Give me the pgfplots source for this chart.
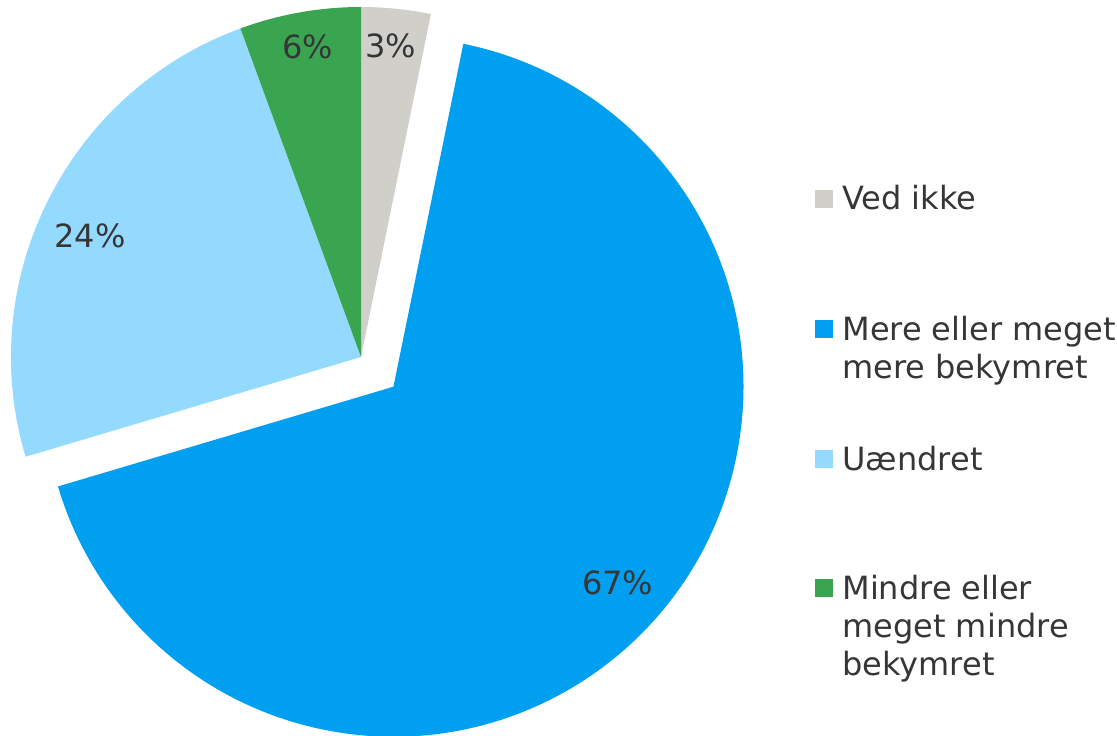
\documentclass[border=0pt]{standalone}
\usepackage{pgfplots}
\pgfplotsset{compat=1.18}
\usepackage{pgfplotstable}
\usepackage{fontspec}
\setmainfont{DejaVu Sans}

\definecolor{cVed}{HTML}{D0CFCA}
\definecolor{cMere}{HTML}{009FEF}
\definecolor{cUaen}{HTML}{94DAFF}
\definecolor{cMindre}{HTML}{3AA551}
\definecolor{txt}{HTML}{363636}

% andel i procent, udtraek (px), afstand til etiket (px) og finjustering
\pgfplotstableread{
name     value explode lr  ldx ldy
VedIkke  3.2   0       313 -2  0
Mere     67.2  44      296 6   4
Uaendret 24.0  0       300 -3  -13
Mindre   5.6   0       315 2   0
}\piedata

\begin{document}
\begin{tikzpicture}[font=\fontsize{16}{19}\selectfont, text=txt]
\begin{axis}[
    x=0.5pt, y=0.5pt,
    xmin=0, xmax=1117, ymin=0, ymax=735,
    hide axis, clip=false,
    /pgf/number format/assume math mode=true,
]
\pgfplotsextra{
  \gdef\cum{0}
  \foreach \i/\col in {0/cVed,1/cMere,2/cUaen,3/cMindre}{
    \pgfplotstablegetelem{\i}{value}\of\piedata \let\vraw\pgfplotsretval
    \pgfplotstablegetelem{\i}{explode}\of\piedata \let\ex\pgfplotsretval
    \pgfplotstablegetelem{\i}{lr}\of\piedata \let\lr\pgfplotsretval
    \pgfplotstablegetelem{\i}{ldx}\of\piedata \let\ldx\pgfplotsretval
    \pgfplotstablegetelem{\i}{ldy}\of\piedata \let\ldy\pgfplotsretval
    \pgfmathsetmacro\a{90-3.6*\cum}
    \pgfmathsetmacro\b{90-3.6*(\cum+\vraw)}
    \pgfmathsetmacro\m{(\a+\b)/2}
    \pgfmathsetmacro\cx{361+\ex*cos(\m)}
    \pgfmathsetmacro\cy{378+\ex*sin(\m)}
    \pgfmathsetmacro\lx{\cx+\lr*cos(\m)+\ldx}
    \pgfmathsetmacro\ly{\cy+\lr*sin(\m)+\ldy}
    \fill[\col] (axis cs:\cx,\cy) -- ++(\a:175pt)
      arc[start angle=\a, end angle=\b, radius=175pt] -- cycle;
    \node at (axis cs:\lx,\ly)
      {\pgfmathprintnumber[fixed,precision=0,assume math mode=true]{\vraw}\%};
    \pgfmathsetmacro\t{\cum+\vraw}
    \xdef\cum{\t}
  }
}
% forklaring
\pgfplotsextra{
  \foreach \y/\col in {536/cVed,406/cMere,276/cUaen,147/cMindre}{
    \fill[\col] (axis cs:815,\y-9) rectangle (axis cs:833,\y+9);
  }
  \node[anchor=base west, inner sep=0pt] at (axis cs:842,525) {Ved ikke};
  \node[anchor=base west, inner sep=0pt] at (axis cs:842,395) {Mere eller meget};
  \node[anchor=base west, inner sep=0pt] at (axis cs:842,357) {mere bekymret};
  \node[anchor=base west, inner sep=0pt] at (axis cs:842,265) {Uændret};
  \node[anchor=base west, inner sep=0pt] at (axis cs:842,136) {Mindre eller};
  \node[anchor=base west, inner sep=0pt] at (axis cs:842,98) {meget mindre};
  \node[anchor=base west, inner sep=0pt] at (axis cs:842,60) {bekymret};
  \coordinate (ll) at (axis cs:0,0);
  \coordinate (ur) at (axis cs:1117,735);
}
\end{axis}
\pgfresetboundingbox
\path (ll) rectangle (ur);
\end{tikzpicture}
\end{document}
